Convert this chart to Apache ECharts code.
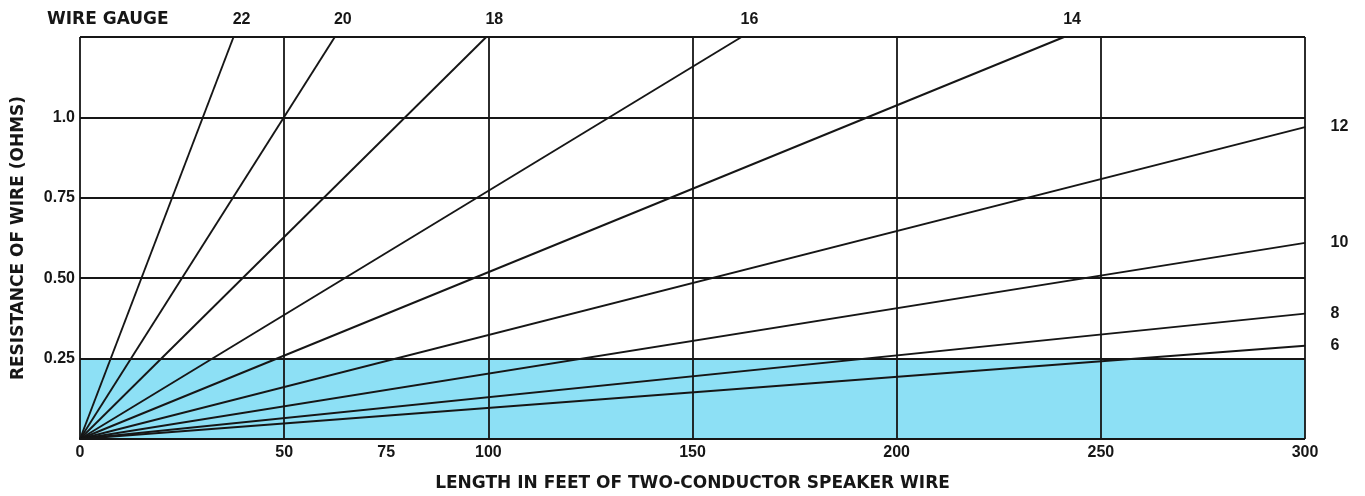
<!DOCTYPE html>
<html>
<head>
<meta charset="utf-8">
<script src="https://cdn.jsdelivr.net/npm/echarts@6/dist/echarts.min.js"></script>
<style>
  html, body { margin: 0; padding: 0; background: #ffffff; }
  #chart { width: 1365px; height: 496px; }
</style>
</head>
<body>
<div id="chart"></div>
<script>
// ---- data ----
const gauges = ['22', '20', '18', '16', '14', '12', '10', '8', '6'];
// end point of each gauge line (length in feet, resistance in ohms)
const endLengthFt = [37.6, 62.4, 99.5, 162, 241, 300, 300, 300, 300];
const endResistanceOhms = [1.25, 1.25, 1.25, 1.25, 1.25, 0.97, 0.61, 0.39, 0.29];
const xTickLabels = [0, 50, 75, 100, 150, 200, 250, 300];
const yTickValues = [0.25, 0.5, 0.75, 1.0];
const yTickLabels = ['0.25', '0.50', '0.75', '1.0'];
const gridLengths = [0, 50, 100, 150, 200, 250, 300];
const gridResistances = [0, 0.25, 0.5, 0.75, 1.0, 1.25];
const shadedBandLength = [0, 300];
const shadedBandOhms = [0.25, 0.25];

const INK = '#161616';
const labelFont = 'Liberation Sans, Arial, sans-serif';
const titleFont = 'DejaVu Sans, Liberation Sans, sans-serif';

const chart = echarts.init(document.getElementById('chart'), null, { renderer: 'canvas' });

const gaugeSeries = gauges.map((g, i) => {
  const atTop = endResistanceOhms[i] >= 1.25;
  return {
    type: 'line',
    name: g,
    z: 4,
    showSymbol: true,
    symbol: 'circle',
    symbolSize: 1,
    itemStyle: { color: INK },
    lineStyle: { color: INK, width: 1.9 },
    silent: true,
    data: [
      [0, 0],
      {
        value: [endLengthFt[i], endResistanceOhms[i]],
        label: atTop ? {
          show: true, formatter: g, position: 'top', distance: 9, offset: [8, 0],
          color: INK, fontFamily: labelFont, fontWeight: 'bold', fontSize: 16
        } : {
          show: true, formatter: g, position: 'right', distance: 25,
          color: INK, fontFamily: labelFont, fontWeight: 'bold', fontSize: 16
        }
      }
    ]
  };
});

const option = {
  animation: false,
  backgroundColor: '#ffffff',
  grid: { left: 80, right: 60, top: 37, bottom: 57, containLabel: false, outerBoundsMode: 'none' },
  xAxis: {
    type: 'value', min: 0, max: 300, interval: 25,
    axisLine: { show: false },
    axisTick: { show: false },
    splitLine: { show: false },
    axisLabel: {
      margin: 6, color: INK, fontFamily: labelFont, fontWeight: 'bold', fontSize: 16,
      formatter: v => (xTickLabels.indexOf(v) >= 0 ? String(v) : '')
    },
    name: 'LENGTH IN FEET OF TWO-CONDUCTOR SPEAKER WIRE',
    nameLocation: 'middle', nameGap: 36,
    nameTextStyle: { color: INK, fontFamily: titleFont, fontWeight: 'bold', fontSize: 17 }
  },
  yAxis: {
    type: 'value', min: 0, max: 1.25, interval: 0.25,
    axisLine: { show: false },
    axisTick: { show: false },
    splitLine: { show: false },
    axisLabel: {
      margin: 5, color: INK, fontFamily: labelFont, fontWeight: 'bold', fontSize: 16,
      formatter: v => {
        for (let k = 0; k < yTickValues.length; k++) {
          if (Math.abs(yTickValues[k] - v) < 1e-9) return yTickLabels[k];
        }
        return '';
      }
    },
    name: 'RESISTANCE OF WIRE (OHMS)',
    nameLocation: 'middle', nameGap: 53, nameRotate: 90,
    nameTextStyle: { color: INK, fontFamily: titleFont, fontWeight: 'bold', fontSize: 17 }
  },
  graphic: [{
    type: 'text', left: 47, top: 11, silent: true,
    style: { text: 'WIRE GAUGE', fill: INK, fontFamily: titleFont, fontWeight: 'bold', fontSize: 17 }
  }],
  series: [
    {
      type: 'line', z: 1, silent: true, showSymbol: false,
      lineStyle: { width: 0, opacity: 0 },
      areaStyle: { color: '#8de0f5', opacity: 1 },
      data: shadedBandLength.map((x, i) => [x, shadedBandOhms[i]])
    },
    {
      type: 'line', z: 2, silent: true, showSymbol: false, data: [],
      markLine: {
        silent: true, symbol: 'none', animation: false,
        label: { show: false },
        lineStyle: { color: INK, width: 1.8, type: 'solid' },
        data: gridLengths.map(v => ({ xAxis: v }))
          .concat(gridResistances.map(v => ({ yAxis: v })))
      }
    }
  ].concat(gaugeSeries)
};

chart.setOption(option);
</script>
</body>
</html>
